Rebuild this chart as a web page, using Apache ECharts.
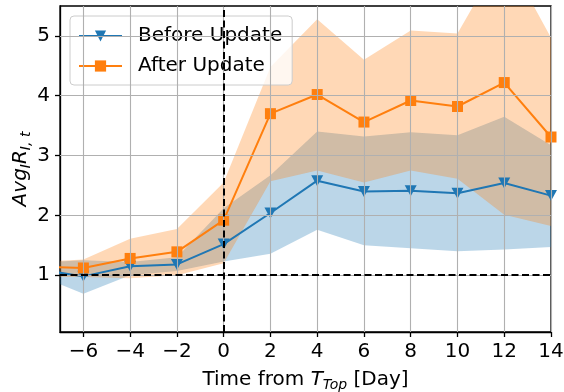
<!DOCTYPE html>
<html><head><meta charset="utf-8">
<script src="https://cdn.jsdelivr.net/npm/echarts@6/dist/echarts.min.js"></script>
<style>html,body{margin:0;padding:0;background:#fff}#c{width:564px;height:392px}</style>
</head><body><div id="c"></div>
<script>
const days = [-8, -6, -4, -2, 0, 2, 4, 6, 8, 10, 12, 14];
const beforeMean = [1.10, 0.98, 1.15, 1.18, 1.52, 2.04, 2.58, 2.40, 2.41, 2.37, 2.54, 2.33];
const beforeLow  = [1.01, 0.69, 1.00, 1.07, 1.23, 1.36, 1.76, 1.50, 1.45, 1.40, 1.43, 1.47];
const beforeHigh = [1.21, 1.25, 1.22, 1.30, 2.12, 2.67, 3.40, 3.32, 3.39, 3.34, 3.65, 3.17];
const afterMean  = [1.14, 1.12, 1.28, 1.39, 1.92, 3.70, 4.02, 3.56, 3.92, 3.82, 4.22, 3.31];
const afterLow   = [0.97, 0.97, 0.95, 1.00, 1.20, 2.57, 2.75, 2.55, 2.75, 2.61, 2.01, 1.82];
const afterHigh  = [1.22, 1.26, 1.61, 1.77, 2.55, 4.48, 5.28, 4.60, 5.09, 5.04, 6.40, 4.97];
const xTicks = [-6, -4, -2, 0, 2, 4, 6, 8, 10, 12, 14];
const yTicks = [1, 2, 3, 4, 5];
const refX = 0;
const refY = 1;

const F = 'DejaVu Sans';
const FS = 20;
const BLUE = '#1f77b4', ORANGE = '#ff7f0e';
const pairs = arr => days.map((d, i) => [d, arr[i]]);
const fmt = v => v < 0 ? '\u2212' + (-v) : String(v);

function bandSeries(low, high, color) {
  return {
    type: 'custom', silent: true, z: 1,
    data: [[days[0], low[0]]],
    renderItem: function (params, api) {
      const pts = [];
      for (let i = 0; i < days.length; i++) pts.push(api.coord([days[i], high[i]]));
      for (let i = days.length - 1; i >= 0; i--) pts.push(api.coord([days[i], low[i]]));
      const cs = params.coordSys;
      return {
        type: 'polygon',
        shape: {points: pts},
        style: {fill: color, opacity: 0.3, stroke: null},
        clipPath: {type: 'rect', shape: {x: cs.x, y: cs.y, width: cs.width, height: cs.height}}
      };
    }
  };
}

const chart = echarts.init(document.getElementById('c'), null, {renderer: 'canvas'});
const axisCommon = {
  splitLine: {show: false},
  axisLine: {onZero: false, lineStyle: {color: '#000', width: 1.3}},
  axisTick: {length: 5, lineStyle: {color: '#000', width: 1.3}},
  axisLabel: {fontFamily: F, fontSize: FS, color: '#000', formatter: fmt}
};
const richMath = {
  it: {fontFamily: F, fontSize: FS, fontStyle: 'italic', color: '#000', fill: '#000', lineHeight: 25},
  sub: {fontFamily: F, fontSize: 14, fontStyle: 'italic', color: '#000', fill: '#000', lineHeight: 15, verticalAlign: 'bottom'}
};
chart.setOption({
  animation: false,
  grid: {left: 60, right: 13, top: 6, bottom: 60, show: true, borderColor: '#000', borderWidth: 1.3,
    backgroundColor: 'transparent', outerBoundsMode: 'none', containLabel: false},
  xAxis: {
    type: 'value', min: -7, max: 14,
    splitLine: axisCommon.splitLine, axisLine: axisCommon.axisLine,
    axisTick: Object.assign({customValues: xTicks}, axisCommon.axisTick),
    axisLabel: Object.assign({customValues: xTicks, margin: 10}, axisCommon.axisLabel),
    name: 'Time from {it|T}{sub|Top} [Day]', nameLocation: 'middle', nameGap: 35,
    nameTextStyle: {fontFamily: F, fontSize: FS, color: '#000', lineHeight: 25, rich: richMath}
  },
  yAxis: {
    type: 'value', min: 0.05, max: 5.5,
    splitLine: axisCommon.splitLine, axisLine: axisCommon.axisLine,
    axisTick: Object.assign({customValues: yTicks}, axisCommon.axisTick),
    axisLabel: Object.assign({customValues: yTicks, margin: 10}, axisCommon.axisLabel)
  },
  graphic: [{
    type: 'text', x: 21, y: 169, rotation: Math.PI / 2,
    style: {
      text: '{it|Avg}{sub|I}{it|R}{sub|I, t}',
      align: 'center', verticalAlign: 'middle', fill: '#000',
      rich: richMath
    }
  }],
  legend: {
    data: ['Before Update', 'After Update'], orient: 'vertical', left: 70, top: 16,
    itemWidth: 43, itemHeight: 14, itemGap: 10, padding: [10, 10, 9, 8],
    backgroundColor: 'rgba(255,255,255,0.8)', borderColor: '#cccccc', borderWidth: 1, borderRadius: 4,
    textStyle: {fontFamily: F, fontSize: 20, color: '#000', padding: [0, 0, 0, 11]}
  },
  series: [
    bandSeries(beforeLow, beforeHigh, BLUE),
    bandSeries(afterLow, afterHigh, ORANGE),
    {type: 'line', data: [[refX, refY]], symbol: 'none', silent: true, z: 1.5, lineStyle: {width: 0, opacity: 0},
      markLine: {symbol: 'none', silent: true, label: {show: false}, animation: false,
        lineStyle: {color: '#b0b0b0', width: 1.1, type: 'solid'},
        data: xTicks.map(v => ({xAxis: v})).concat(yTicks.map(v => ({yAxis: v})))}},
    {name: 'Before Update', type: 'line', data: pairs(beforeMean), z: 3,
      symbol: 'triangle', symbolRotate: 180, symbolSize: [12, 11],
      lineStyle: {color: BLUE, width: 2}, itemStyle: {color: BLUE}},
    {name: 'After Update', type: 'line', data: pairs(afterMean), z: 3,
      symbol: 'rect', symbolSize: 11,
      lineStyle: {color: ORANGE, width: 2}, itemStyle: {color: ORANGE}},
    {type: 'line', data: [[refX, refY]], symbol: 'none', silent: true, z: 4, lineStyle: {width: 0, opacity: 0},
      markLine: {symbol: 'none', silent: true, label: {show: false}, animation: false,
        lineStyle: {color: '#000', width: 2, type: [7, 3.5]},
        data: [{xAxis: refX}, {yAxis: refY}]}}
  ]
});
</script></body></html>
